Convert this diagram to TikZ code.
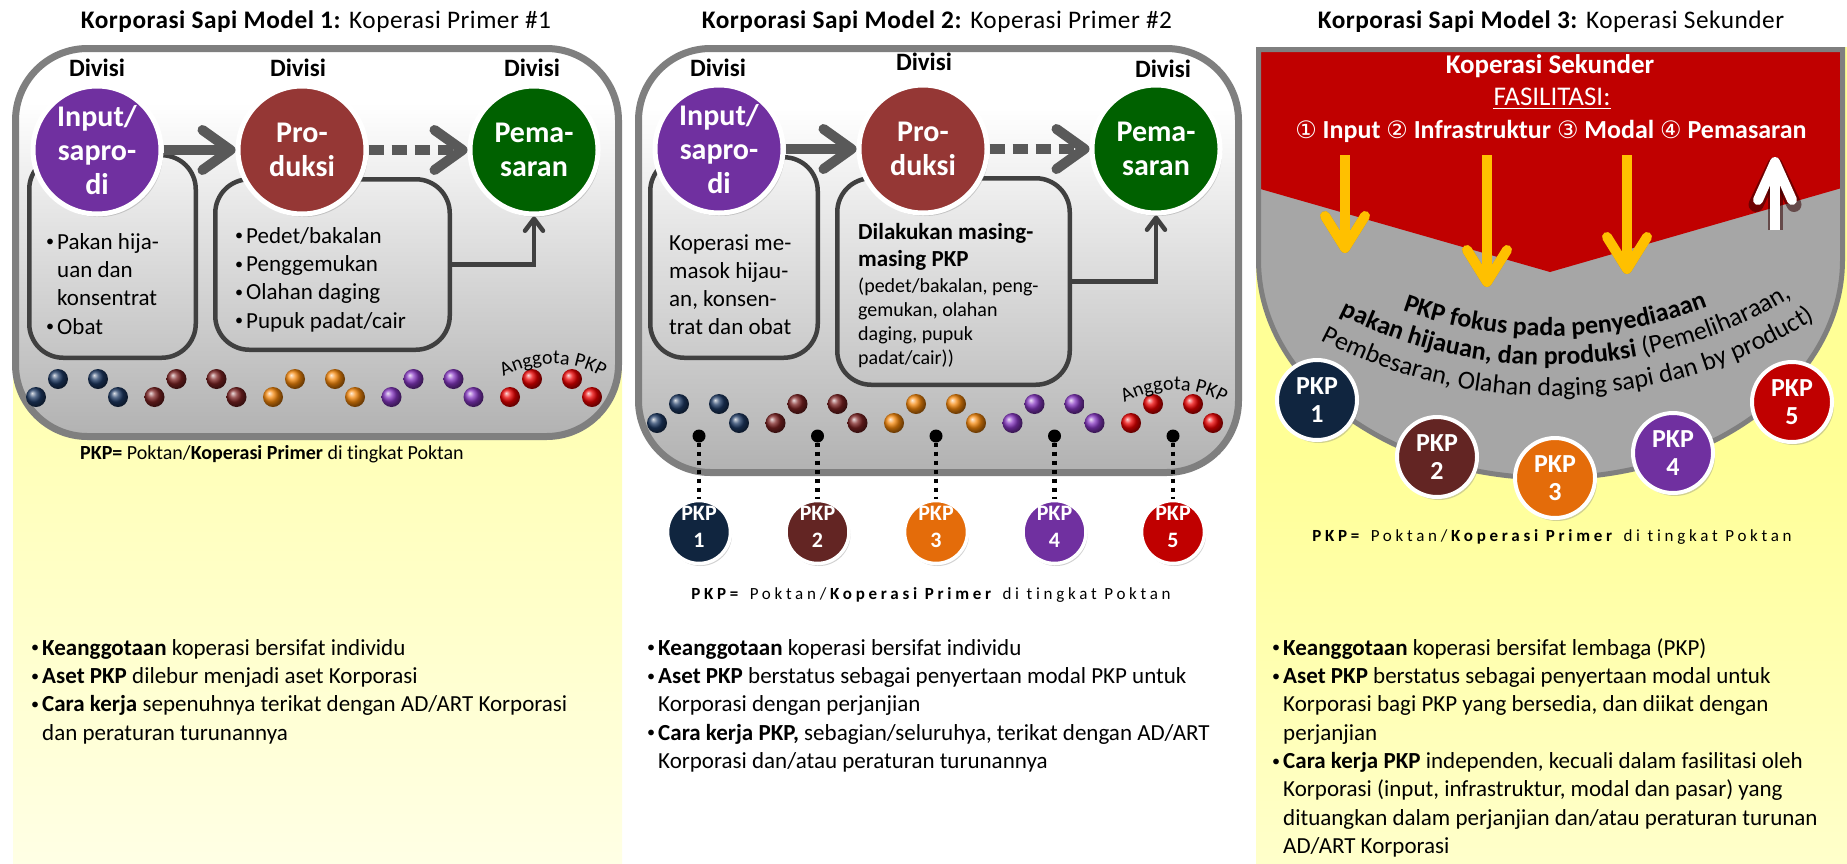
\documentclass[tikz,border=0pt]{standalone}
\usepackage{fontspec}
\setmainfont{Carlito}[Ligatures=NoCommon]
\newfontfamily\symfont{DejaVu Sans}
\newfontfamily\spacedfont{Carlito}[LetterSpace=22,Ligatures=NoCommon]
\newfontfamily\titlefont{Carlito}[LetterSpace=2,Ligatures=NoCommon]
\usetikzlibrary{arrows.meta,shadows,decorations.text}

% colours
\definecolor{boxline}{RGB}{127,127,127}
\definecolor{subline}{RGB}{64,64,64}
\definecolor{arrowgray}{RGB}{89,89,89}
\definecolor{divpurple}{RGB}{112,48,160}
\definecolor{divred}{RGB}{149,55,53}
\definecolor{divgreen}{RGB}{0,97,0}
\definecolor{pkpnavy}{RGB}{16,37,63}
\definecolor{pkpbrown}{RGB}{99,37,35}
\definecolor{pkporange}{RGB}{228,108,10}
\definecolor{pkppurple}{RGB}{112,48,160}
\definecolor{pkpred}{RGB}{192,0,0}
\definecolor{ksred}{RGB}{192,0,0}
\definecolor{ksgray}{RGB}{166,166,166}
\definecolor{fasyellow}{RGB}{255,192,0}
\definecolor{paleyellow}{RGB}{255,255,150}
\definecolor{panelbottom}{gray}{0.52}
\definecolor{bnavy}{RGB}{30,58,100}
\definecolor{bmaroon}{RGB}{125,35,35}
\definecolor{borange}{RGB}{245,135,10}
\definecolor{bpurple}{RGB}{135,55,195}
\definecolor{bred}{RGB}{235,0,0}

\pgfdeclareverticalshading{panelgray}{100bp}{color(0bp)=(panelbottom); color(68bp)=(white); color(100bp)=(white)}
\pgfdeclareverticalshading{fadeA}{100bp}{color(0bp)=(white); color(100bp)=(paleyellow)}
\pgfdeclareverticalshading{fadeB}{100bp}{color(0bp)=(white); color(50bp)=(paleyellow); color(100bp)=(paleyellow)}

% small list bullet and the matching hanging indent
\newcommand\bul{\raisebox{0.1em}{\scalebox{0.7}{\textbullet}}\hspace{3pt}}
\newcommand\ind{\hphantom{\scalebox{0.7}{\textbullet}\hspace{3pt}}}

\begin{document}
\begin{tikzpicture}[x=1pt,y=-1pt,
  title/.style={anchor=base, inner sep=0pt, font=\titlefont\fontsize{25.3}{30}\selectfont},
  divlabel/.style={inner sep=0pt, font=\bfseries\fontsize{25}{26}\selectfont},
  divcircle/.style={circle, draw=white, line width=5pt, minimum size=128pt, inner sep=0pt,
     text=white, align=center, font=\bfseries\fontsize{30}{34}\selectfont,
     drop shadow={shadow xshift=2pt, shadow yshift=-3pt, opacity=0.35}},
  outerbox/.style={draw=boxline, line width=7pt, rounded corners=72pt, shade, shading=panelgray},
  subbox/.style={draw=subline, line width=4.5pt, rounded corners=34pt, inner sep=0pt},
  flowarrow/.style={draw=arrowgray, line width=10pt, -{Straight Barb[length=28pt,width=40pt,round]}},
  flowdots/.style={flowarrow, dash pattern=on 15pt off 8pt},
  feedarrow/.style={draw=subline, line width=4.5pt, -{Straight Barb[length=12pt,width=18pt,round]}},
  blocktext/.style={inner sep=0pt, align=left, anchor=north west},
  keytext/.style={anchor=base, inner sep=0pt},
  blackdot/.style={circle, fill=black, minimum size=13pt, inner sep=0pt},
  dotline/.style={draw=black, line width=4.5pt, dash pattern=on 4.5pt off 4.5pt},
  pkpsmall/.style={circle, draw=white, line width=3.5pt, minimum size=63pt, inner sep=0pt,
     text=white, align=center, font=\bfseries\fontsize{22}{27}\selectfont,
     drop shadow={shadow xshift=1.5pt, shadow yshift=-2.5pt, opacity=0.35}},
  pkpbig/.style={circle, draw=white, line width=4pt, minimum size=80pt, inner sep=0pt,
     text=white, align=center, font=\bfseries\fontsize{26}{28}\selectfont,
     drop shadow={shadow xshift=2pt, shadow yshift=-3pt, opacity=0.35}},
  facarrow/.style={draw=fasyellow, line width=10pt, -{Straight Barb[length=32pt,width=40pt,round]}},
  facshadow/.style={draw=black, opacity=0.22, line width=10pt, xshift=2pt, yshift=-2.5pt,
     -{Straight Barb[length=32pt,width=40pt,round]}},
]
\useasboundingbox (0,0) rectangle (1847,863);
\fill[white] (0,0) rectangle (1847,863);

% ---------- background columns ----------
\path[shade, shading=fadeA] (13,370) rectangle (622,863);
\path[shade, shading=fadeB] (1256,47) rectangle (1847,863);

% ---------- titles ----------
\node[title] (t1) at (316,28) {\textbf{Korporasi Sapi Model 1:} Koperasi Primer \#1};
\node[title] (t2) at (937,28) {\textbf{Korporasi Sapi Model 2:} Koperasi Primer \#2};
\node[title] (t3) at (1551,28) {\textbf{Korporasi Sapi Model 3:} Koperasi Sekunder};

% =====================  MODEL 1  =====================
\path[outerbox] (15.5,48.5) rectangle (618.5,436.5);

\node[subbox, minimum width=166.5pt, minimum height=202.5pt] (sb11) at (112.5,256.5) {};
\node[subbox, minimum width=234.5pt, minimum height=170.5pt] (sb12) at (332.5,264.5) {};

\node[divlabel] (dv11) at (97,68) {Divisi};
\node[divlabel] (dv12) at (298,68) {Divisi};
\node[divlabel] (dv13) at (532,68) {Divisi};

\node[divcircle, fill=divpurple] (in1) at (97,150) {Input/\\sapro-\\di};
\node[divcircle, fill=divred] (pr1) at (302,150) {Pro-\\duksi};
\node[divcircle, fill=divgreen] (pm1) at (534,150) {Pema-\\saran};

\draw[flowarrow] (in1) -- (pr1);
\draw[flowdots] (pr1) -- (pm1);
\draw[feedarrow] (sb12.east) -| (pm1.south);

\node[blocktext, font=\fontsize{23}{28.3}\selectfont] (tx11) at (46,229.2)
  {\strut\bul Pakan hija-\\\ind uan dan\\\ind konsentrat\\\bul Obat};
\node[blocktext, font=\fontsize{23}{28.3}\selectfont] (tx12) at (235,223.2)
  {\strut\bul Pedet/bakalan\\\bul Penggemukan\\\bul Olahan daging\\\bul Pupuk padat/cair};

% member balls
\foreach \g/\c in {0/bnavy,1/bmaroon,2/borange,3/bpurple,4/bred}{
  \foreach \dx/\yy in {0/397,22/379,62/379,82/397}{
    \shade[ball color=\c] ({36+118.5*\g+\dx},\yy) circle[radius=10];
  }
}
\path[decorate, decoration={text along path, text align=center,
  text={|\fontsize{20}{20}\selectfont|Anggota PKP}}]
  (553,467) ++(233:103) arc[start angle=233, end angle=307, radius=103];

\node[keytext, font=\fontsize{20}{24}\selectfont] (key1) at (272,459)
  {\textbf{PKP=} Poktan/\textbf{Koperasi Primer} di tingkat Poktan};

\node[blocktext, font=\fontsize{23}{28.3}\selectfont] (bt1) at (31,635.2)
  {\strut\bul\textbf{Keanggotaan} koperasi bersifat individu\\
   \bul\textbf{Aset PKP} dilebur menjadi aset Korporasi\\
   \bul\textbf{Cara kerja} sepenuhnya terikat dengan AD/ART Korporasi\\
   \ind dan peraturan turunannya};

% =====================  MODEL 2  =====================
\path[outerbox] (638.5,48.5) rectangle (1238.5,472.5);

\node[subbox, minimum width=167.5pt, minimum height=200.5pt] (sb21) at (734,257.5) {};
\node[subbox, minimum width=232.5pt, minimum height=206.5pt] (sb22) at (953.5,281.5) {};

\node[divlabel] (dv21) at (718,67.5) {Divisi};
\node[divlabel] (dv22) at (924,62) {Divisi};
\node[divlabel] (dv23) at (1163,69) {Divisi};

\node[divcircle, fill=divpurple] (in2) at (719,149) {Input/\\sapro-\\di};
\node[divcircle, fill=divred] (pr2) at (923,149) {Pro-\\duksi};
\node[divcircle, fill=divgreen] (pm2) at (1156,149) {Pema-\\saran};

\draw[flowarrow] (in2) -- (pr2);
\draw[flowdots] (pr2) -- (pm2);
\draw[feedarrow] (sb22.east) -| (pm2.south);

\node[blocktext, font=\fontsize{23}{28}\selectfont] (tx21) at (669,230.4)
  {\strut Koperasi me-\\masok hijau-\\an, konsen-\\trat dan obat};
\node[blocktext, font=\bfseries\fontsize{23}{27}\selectfont] (tx22) at (858,220.1)
  {\strut Dilakukan masing-\\masing PKP};
\node[blocktext, font=\fontsize{20}{24}\selectfont] (tx23) at (858,275.2)
  {\strut(pedet/bakalan, peng-\\gemukan, olahan\\daging, pupuk\\padat/cair))};

\foreach \g/\c in {0/bnavy,1/bmaroon,2/borange,3/bpurple,4/bred}{
  \foreach \dx/\yy in {0/423,22/404,62/404,82/423}{
    \shade[ball color=\c] ({657+118.5*\g+\dx},\yy) circle[radius=10];
  }
}
\path[decorate, decoration={text along path, text align=center,
  text={|\fontsize{20}{20}\selectfont|Anggota PKP}}]
  (1174,493) ++(233:103) arc[start angle=233, end angle=307, radius=103];

\foreach \k/\c in {1/pkpnavy,2/pkpbrown,3/pkporange,4/pkppurple,5/pkpred}{
  \pgfmathsetmacro\px{699+118.5*(\k-1)}
  \node[blackdot] (dot\k) at (\px,436) {};
  \node[pkpsmall, fill=\c] (pkpb\k) at (\px,532) {PKP\\\k\rule[-10pt]{0pt}{10pt}};
  \draw[dotline] (dot\k) -- (pkpb\k);
}

\node[keytext, font=\spacedfont\fontsize{17}{20}\selectfont] (key2) at (931,599)
  {\textbf{PKP=} Poktan/\textbf{Koperasi Primer} di tingkat Poktan};

\node[blocktext, font=\fontsize{23}{28.3}\selectfont] (bt2) at (647,635.2)
  {\strut\bul\textbf{Keanggotaan} koperasi bersifat individu\\
   \bul\textbf{Aset PKP} berstatus sebagai penyertaan modal PKP untuk\\
   \ind Korporasi dengan perjanjian\\
   \bul\textbf{Cara kerja PKP,} sebagian/seluruhya, terikat dengan AD/ART\\
   \ind Korporasi dan/atau peraturan turunannya};

% =====================  MODEL 3  =====================
\path[fill=ksgray] (1258.5,49.5) -- (1842.5,49.5) -- (1842.5,260)
   arc[start angle=0, end angle=180, x radius=292, y radius=218] -- cycle;
\begin{scope}
  \clip (1258.5,49.5) -- (1842.5,49.5) -- (1842.5,260)
     arc[start angle=0, end angle=180, x radius=292, y radius=218] -- cycle;
  \fill[ksred] (1250,40) -- (1850,40) -- (1850,185.6) -- (1550,272) -- (1250,186) -- cycle;
\end{scope}
\draw[boxline, line width=5pt] (1258.5,49.5) -- (1842.5,49.5) -- (1842.5,260)
   arc[start angle=0, end angle=180, x radius=292, y radius=218] -- cycle;

\node[keytext, text=white, font=\bfseries\fontsize{27}{30}\selectfont] (ks) at (1550,73) {Koperasi Sekunder};
\node[keytext, text=white, font=\fontsize{27}{30}\selectfont] (fas) at (1552,105) {FASILITASI:};
\draw[white, line width=1.8pt] ([yshift=-3.5pt]fas.base west) -- ([yshift=-3.5pt]fas.base east);
\node[keytext, text=white, font=\bfseries\fontsize{26}{30}\selectfont] (fac) at (1551,138)
  {{\symfont\mdseries\fontsize{24}{24}\selectfont ①} Input
   {\symfont\mdseries\fontsize{24}{24}\selectfont ②} Infrastruktur
   {\symfont\mdseries\fontsize{24}{24}\selectfont ③} Modal
   {\symfont\mdseries\fontsize{24}{24}\selectfont ④} Pemasaran};

% facilitation arrows
\coordinate (ya1) at (1345,155); \coordinate (yb1) at (1345,253);
\coordinate (ya2) at (1487,155); \coordinate (yb2) at (1487,287);
\coordinate (ya3) at (1627,155); \coordinate (yb3) at (1627,274);
\foreach \i in {1,2,3}{
  \draw[facshadow] (ya\i) -- (yb\i);
  \draw[facarrow] (ya\i) -- (yb\i);
}
\coordinate (wa) at (1775,230); \coordinate (wb) at (1775,157);
\draw[draw=black!75!ksred, opacity=0.55, line width=15pt, xshift=1pt, yshift=-2pt,
   -{Straight Barb[length=40pt,width=38pt,round]}] (wa) -- (wb);
\draw[draw=white, line width=10pt, -{Straight Barb[length=38pt,width=34pt,round]}] (wa) -- (wb);

% curved statement
\path[decorate, decoration={text along path, text align=center,
  text={|\fontsize{26}{26}\selectfont\bfseries|PKP fokus pada penyediaaan}}]
  (1550,-100) ++(129.3:436) arc[start angle=129.3, end angle=49.3, radius=436];
\path[decorate, decoration={text along path, text align=center,
  text={|\fontsize{26}{26}\selectfont\bfseries|pakan hijauan, dan produksi |\fontsize{26}{26}\selectfont\mdseries|(Pemeliharaan,}}]
  (1550,-100) ++(127.8:465) arc[start angle=127.8, end angle=47.8, radius=465];
\path[decorate, decoration={text along path, text align=center,
  text={|\fontsize{26}{26}\selectfont\mdseries|Pembesaran, Olahan daging sapi dan by product)}}]
  (1550,-100) ++(127.6:496) arc[start angle=127.6, end angle=47.6, radius=496];

\foreach \k/\c/\px/\py in {1/pkpnavy/1317/400, 2/pkpbrown/1437/457, 3/pkporange/1555/478,
                           4/pkppurple/1673/453, 5/pkpred/1792/402}{
  \node[pkpbig, fill=\c] (pkpc\k) at (\px,\py) {PKP\\\k};
}

\node[keytext, font=\spacedfont\fontsize{17}{20}\selectfont] (key3) at (1552,541)
  {\textbf{PKP=} Poktan/\textbf{Koperasi Primer} di tingkat Poktan};

\node[blocktext, font=\fontsize{23}{28.3}\selectfont] (bt3) at (1272,635.2)
  {\strut\bul\textbf{Keanggotaan} koperasi bersifat lembaga (PKP)\\
   \bul\textbf{Aset PKP} berstatus sebagai penyertaan modal untuk\\
   \ind Korporasi bagi PKP yang bersedia, dan diikat dengan\\
   \ind perjanjian\\
   \bul\textbf{Cara kerja PKP} independen, kecuali dalam fasilitasi oleh\\
   \ind Korporasi (input, infrastruktur, modal dan pasar) yang\\
   \ind dituangkan dalam perjanjian dan/atau peraturan turunan\\
   \ind AD/ART Korporasi};
\end{tikzpicture}
\end{document}
